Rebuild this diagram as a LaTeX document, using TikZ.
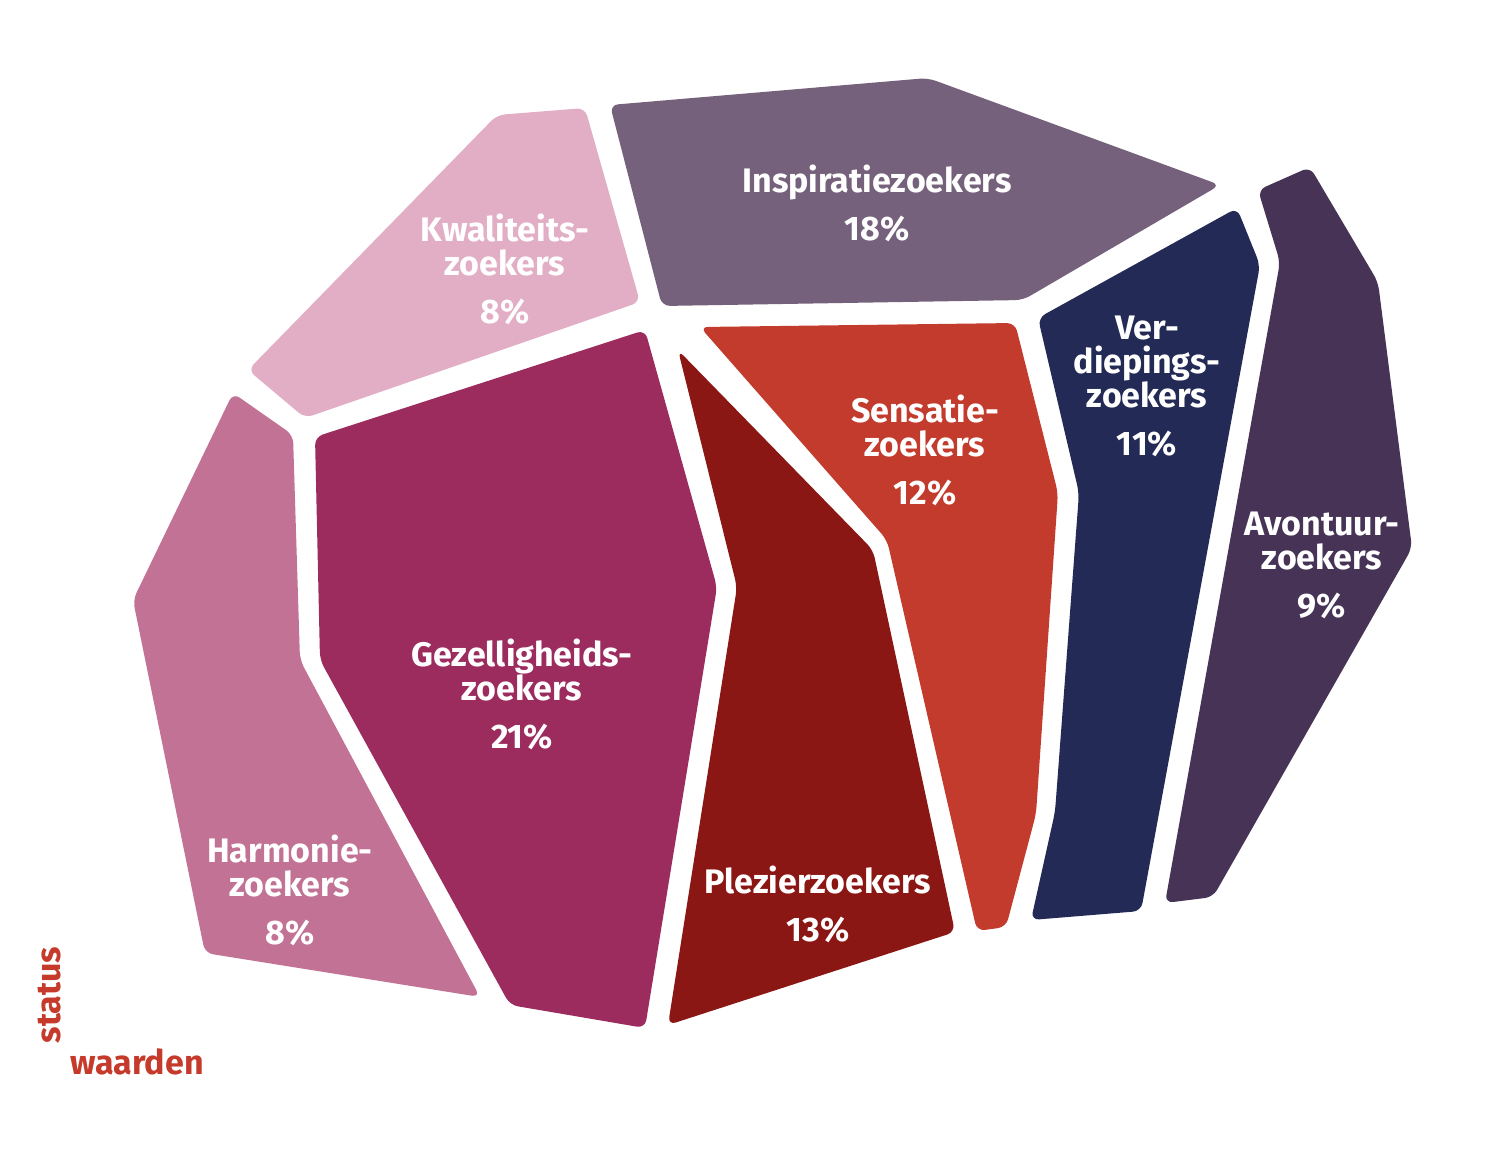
\documentclass[tikz,border=0pt]{standalone}
\usepackage{fontspec}
\setmainfont{Fira Sans}
\usepackage{xcolor}
\usepackage{tikz}
\definecolor{KwalPink}{HTML}{E2AEC5}
\definecolor{InspGrey}{HTML}{75617B}
\definecolor{HarmPink}{HTML}{C27295}
\definecolor{GezelMagenta}{HTML}{9C2B5E}
\definecolor{PlezRed}{HTML}{8B1714}
\definecolor{SensRed}{HTML}{C33B2D}
\definecolor{VerdBlue}{HTML}{232A55}
\definecolor{AvonPurple}{HTML}{473356}
\definecolor{AxisRed}{HTML}{C63A2B}

\begin{document}
\begin{tikzpicture}[x=0.5pt,y=-0.5pt,
    segment/.style={rounded corners=4pt},
    seglabel/.style={text=white,font=\bfseries\fontsize{17}{17}\selectfont,align=center},
    axislabel/.style={text=AxisRed,font=\bfseries\fontsize{17}{17}\selectfont}]
    \useasboundingbox (0,0) rectangle (1500,1158);

    % Segments - one filled polygon per group
    \fill[segment,KwalPink] (497,115) -- (585,108) -- (640,302) -- (305,418) -- (248,370) -- cycle;
    \fill[segment,InspGrey] (610,105) -- (928,78) -- (1220,185) -- (1023,300) -- (662,306) -- cycle;
    \fill[segment,HarmPink] (233,393) -- (293,435) -- (300,660) -- (480,997) -- (205,953) -- (133,600) -- cycle;
    \fill[segment,GezelMagenta] (315,437) -- (645,330) -- (717,587) -- (645,1028) -- (510,1005) -- (320,660) -- cycle;
    \fill[segment,PlezRed] (678,350) -- (873,550) -- (955,932) -- (668,1025) -- (737,587) -- cycle;
    \fill[segment,SensRed] (700,327) -- (1015,323) -- (1058,493) -- (1036,814) -- (1006,927) -- (977,931) -- (887,540) -- cycle;
    \fill[segment,VerdBlue] (1038,318) -- (1237,208) -- (1260,265) -- (1141,911) -- (1031,920) -- (1055,812) -- (1079,493) -- cycle;
    \fill[segment,AvonPurple] (1258,190) -- (1310,167) -- (1378,282) -- (1412,548) -- (1213,897) -- (1165,903) -- (1280,262) -- cycle;

    % Labels
    \node[seglabel] (kwal) at (505,269) {Kwaliteits-\\zoekers\\[7pt]8\%};
    \node[seglabel] (insp) at (877,203) {Inspiratiezoekers\\[7pt]18\%};
    \node[seglabel] (verd) at (1147,386) {Ver-\\diepings-\\zoekers\\[7pt]11\%};
    \node[seglabel] (sens) at (925,450) {Sensatie-\\zoekers\\[7pt]12\%};
    \node[seglabel] (avon) at (1322,565) {Avontuur-\\zoekers\\[7pt]9\%};
    \node[seglabel] (gezel) at (522,694) {Gezelligheids-\\zoekers\\[7pt]21\%};
    \node[seglabel] (harm) at (290,890) {Harmonie-\\zoekers\\[7pt]8\%};
    \node[seglabel] (plez) at (818,904) {Plezierzoekers\\[7pt]13\%};

    % Axis words
    \node[axislabel,rotate=90] (status) at (50,995) {status};
    \node[axislabel] (waarden) at (137,1062) {waarden};
\end{tikzpicture}
\end{document}
